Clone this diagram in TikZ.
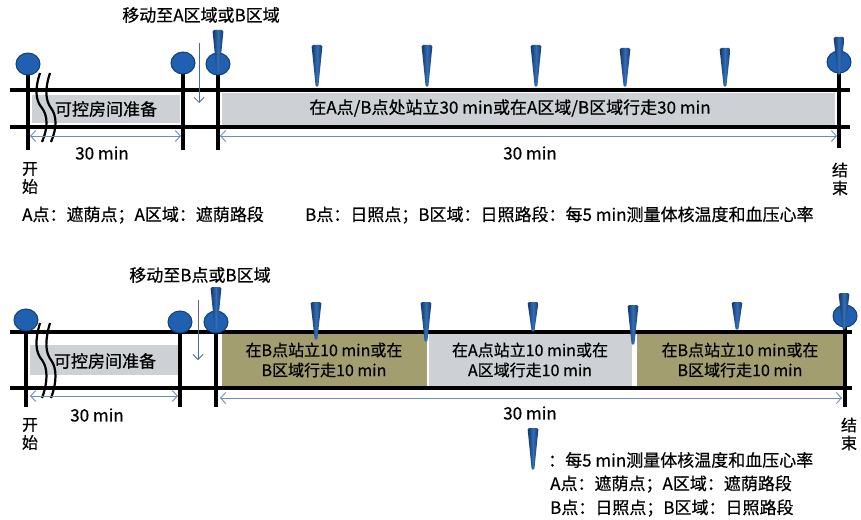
\documentclass[tikz,border=0pt]{standalone}
\usepackage{fontspec}
\setmainfont{Noto Sans CJK SC}[FakeBold=0.5]
\usetikzlibrary{arrows.meta}
\definecolor{boxgray}{RGB}{205,209,214}
\definecolor{boxolive}{RGB}{163,158,112}
\definecolor{balltone}{RGB}{32,96,176}
\definecolor{ballrim}{RGB}{20,62,125}
\definecolor{pindark}{RGB}{18,52,105}
\definecolor{pinmid}{RGB}{50,110,180}
\definecolor{dimcol}{RGB}{110,140,180}
\definecolor{movecol}{RGB}{75,105,145}
\newcommand\dropmark[3]{\shade[left color=pindark,right color=pindark,middle color=pinmid,rounded corners=1.5pt] ({#1-5.5},#2) -- ({#1+5.5},#2) -- ({#1+1.3},#3) -- ({#1-1.3},#3) -- cycle;}
\tikzset{
  mainline/.style={line width=3.6pt, black},
  tickline/.style={line width=3.2pt, black},
  ballmark/.style={fill=balltone, draw=ballrim, line width=1pt},
  dimline/.style={draw=dimcol, line width=0.9pt, {Straight Barb[length=5pt,width=11pt]}-{Straight Barb[length=5pt,width=11pt]}},
  moveline/.style={draw=movecol, line width=0.8pt, -{Straight Barb[length=5pt,width=10pt]}},
  lbl/.style={font=\fontsize{17pt}{20pt}\selectfont, inner sep=0pt},
  slbl/.style={font=\fontsize{16pt}{20pt}\selectfont, inner sep=0pt, align=center},
  vlbl/.style={font=\fontsize{16pt}{18pt}\selectfont, inner sep=0pt, align=center},
  breakline/.style={line width=2.2pt, black},
}
\begin{document}
\begin{tikzpicture}[x=1pt,y=-1pt]
\useasboundingbox (0,0) rectangle (861,519);
% ================= TOP PANEL =================
\fill[boxgray] (32,95) rectangle (180,123);
\fill[boxgray] (222,93) rectangle (835,125);
\coordinate (tl1a) at (10,90); \coordinate (tl1b) at (850,90);
\coordinate (tl2a) at (10,127); \coordinate (tl2b) at (850,127);
\draw[mainline] (tl1a) -- (tl1b);
\draw[mainline] (tl2a) -- (tl2b);
\foreach \n/\x/\yt/\yb in {0/28/64/150, 1/183/63/150, 2/218/64/150, 3/839/62/148}{
  \coordinate (tv\n a) at (\x,\yt); \coordinate (tv\n b) at (\x,\yb);
  \draw[tickline] (tv\n a) -- (tv\n b);
  \draw[ballmark] (tv\n a) circle[x radius=12pt, y radius=11pt];
}
% break mark
\draw[breakline] (40,73) .. controls (35,88) and (35,100) .. (42,108) .. controls (48,116) and (48,128) .. (42,142);
\draw[breakline] (50,73) .. controls (45,88) and (45,100) .. (51,108) .. controls (57,116) and (57,128) .. (51,142);
% pins
\dropmark{218}{30}{74}
\dropmark{317}{45}{87}
\dropmark{427}{45}{87}
\dropmark{536}{45}{87}
\dropmark{625}{48}{87}
\dropmark{725}{48}{87}
\dropmark{839}{37}{75}
% move arrow
\node[lbl] (tmove) at (201,15) {移动至A区域或B区域};
\coordinate (tma) at (199,43); \coordinate (tmb) at (199,103);
\draw[moveline] (tma) -- (tmb);
% dimensions
\coordinate (td1a) at (30,136); \coordinate (td1b) at (181,136);
\coordinate (td2a) at (220,136); \coordinate (td2b) at (837,136);
\draw[dimline] (td1a) -- (td1b);
\draw[dimline] (td2a) -- (td2b);
\node[lbl] (tmin1) at (102,153) {30 min};
\node[lbl] (tmin2) at (530,153) {30 min};
\node[vlbl] (tstart) at (30,178) {开\\始};
\node[vlbl] (tend) at (840,179) {结\\束};
\node[lbl] (tprep) at (106,109) {可控房间准备};
\node[lbl] (tmain) at (510,108) {在A点/B点处站立30 min或在A区域/B区域行走30 min};
\node[lbl,anchor=west] (tleg1) at (22,215) {A点：遮荫点；A区域：遮荫路段};
\node[lbl,anchor=west] (tleg2) at (305,215) {B点：日照点；B区域：日照路段：每5 min测量体核温度和血压心率};
% ================= BOTTOM PANEL =================
\fill[boxgray] (30,345) rectangle (178,375);
\fill[boxolive] (222,334) rectangle (427,386);
\fill[boxgray] (429,334) rectangle (632,386);
\fill[boxolive] (637,334) rectangle (843,386);
\coordinate (bl1a) at (10,332); \coordinate (bl1b) at (852,332);
\coordinate (bl2a) at (10,388); \coordinate (bl2b) at (852,388);
\draw[mainline] (bl1a) -- (bl1b);
\draw[mainline] (bl2a) -- (bl2b);
\foreach \n/\x/\yt/\yb in {0/26/320/407, 1/180/322/407, 2/216/322/407, 3/845/316/407}{
  \coordinate (bv\n a) at (\x,\yt); \coordinate (bv\n b) at (\x,\yb);
  \draw[tickline] (bv\n a) -- (bv\n b);
  \draw[ballmark] (bv\n a) circle[x radius=12pt, y radius=11pt];
}
\draw[breakline] (40,323) .. controls (35,340) and (35,352) .. (42,360) .. controls (48,368) and (48,382) .. (42,398);
\draw[breakline] (50,323) .. controls (45,340) and (45,352) .. (51,360) .. controls (57,368) and (57,382) .. (51,398);
\dropmark{216}{287}{330}
\dropmark{316}{302}{340}
\dropmark{426}{302}{342}
\dropmark{533}{302}{332}
\dropmark{633}{305}{345}
\dropmark{737}{302}{330}
\dropmark{844}{293}{330}
\node[lbl] (bmove) at (200,275) {移动至B点或B区域};
\coordinate (bma) at (198,300); \coordinate (bmb) at (198,360);
\draw[moveline] (bma) -- (bmb);
\coordinate (bd1a) at (30,396); \coordinate (bd1b) at (178,396);
\coordinate (bd2a) at (220,398); \coordinate (bd2b) at (842,398);
\draw[dimline] (bd1a) -- (bd1b);
\draw[dimline] (bd2a) -- (bd2b);
\node[lbl] (bmin1) at (97,415) {30 min};
\node[lbl] (bmin2) at (530,413) {30 min};
\node[vlbl] (bstart) at (30,434) {开\\始};
\node[vlbl] (bend) at (849,434) {结\\束};
\node[lbl] (bprep) at (105,361) {可控房间准备};
\node[slbl] (bseg1) at (324,360) {在B点站立10 min或在\\B区域行走10 min};
\node[slbl] (bseg2) at (530,360) {在A点站立10 min或在\\A区域行走10 min};
\node[slbl] (bseg3) at (740,360) {在B点站立10 min或在\\B区域行走10 min};
% legend
\dropmark{533}{428}{470}
\node[lbl,anchor=west] (bleg1) at (548,460) {：每5 min测量体核温度和血压心率};
\node[lbl,anchor=west] (bleg2) at (550,484) {A点：遮荫点；A区域：遮荫路段};
\node[lbl,anchor=west] (bleg3) at (550,508) {B点：日照点；B区域：日照路段};
\end{tikzpicture}
\end{document}
